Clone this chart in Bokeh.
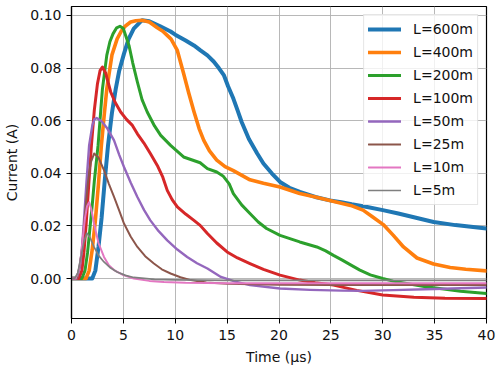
from bokeh.plotting import figure
from bokeh.models import Range1d, FixedTicker, NumeralTickFormatter
from bokeh.embed import file_html
from bokeh.resources import INLINE

# ---- data ----
labels = ["L=600m", "L=400m", "L=200m", "L=100m", "L=50m", "L=25m", "L=10m", "L=5m"]
colors = ["#1f77b4", "#ff7f0e", "#2ca02c", "#d62728", "#9467bd", "#8c564b", "#e377c2", "#7f7f7f"]
widths = [4, 3.6, 3, 3, 2.4, 2, 2, 1.7]

t_600 = [0, 2.0, 2.3, 2.6, 2.9, 3.2, 3.52, 3.9, 4.26, 4.6, 5.06, 5.5, 6.0, 6.8, 7.5, 8.5, 9.55, 10, 11,
         11.8, 12.43, 13.1, 13.7, 14.2, 14.7, 15.1, 15.6, 16.0, 16.4, 17.1, 17.9, 18.5, 19.3, 20.1, 21,
         22, 23.5, 24.9, 26, 27, 28.5, 30, 31.5, 33, 34.9, 37, 40]
i_600 = [0, 0, 0.003, 0.012, 0.023, 0.037, 0.0506, 0.063, 0.072, 0.079, 0.0855, 0.091, 0.095, 0.0982,
         0.0978, 0.096, 0.0939, 0.0927, 0.0905, 0.0886, 0.0867, 0.0848, 0.0825, 0.080, 0.0772, 0.073,
         0.0684, 0.064, 0.0595, 0.053, 0.0475, 0.0437, 0.040, 0.0367, 0.0345, 0.0329, 0.031, 0.0297,
         0.029, 0.0282, 0.0272, 0.026, 0.0247, 0.0233, 0.0215, 0.0203, 0.019]

t_400 = [0, 1.4, 1.7, 2.0, 2.3, 2.6, 2.88, 3.15, 3.4, 3.9, 4.4, 4.8, 5.2, 5.7, 6.2, 6.8, 7.5, 8.27,
         8.8, 9.2, 9.6, 10.2, 10.8, 11.3, 11.8, 12.3, 12.75, 13.3, 14.0, 14.8, 15.6, 17.2, 18.5, 20.1,
         22, 23.5, 24.9, 26.9, 28.1, 29.0, 30.05, 31.0, 32.0, 33.3, 34.9, 36.5, 38, 40]
i_400 = [0, 0, 0.003, 0.011, 0.022, 0.036, 0.0506, 0.062, 0.072, 0.085, 0.0911, 0.094, 0.096, 0.0975,
         0.098, 0.0982, 0.0975, 0.0953, 0.094, 0.0925, 0.091, 0.0867, 0.078, 0.0705, 0.0635, 0.057,
         0.0525, 0.0485, 0.045, 0.0425, 0.041, 0.0375, 0.0362, 0.0348, 0.0323, 0.031, 0.0297, 0.0278,
         0.026, 0.0235, 0.0205, 0.0165, 0.012, 0.0078, 0.0055, 0.0042, 0.0035, 0.0029]

t_200 = [0, 1.0, 1.3, 1.55, 1.8, 2.0, 2.2, 2.56, 2.98, 3.4, 3.7, 4.0, 4.35, 4.67, 5.0, 5.25, 5.54, 5.9,
         6.35, 6.8, 7.3, 8.0, 8.6, 9.55, 10.8, 12.4, 13.1, 14.0, 14.6, 15.2, 15.6, 16.4, 17.2, 18.0,
         18.8, 20.1, 22, 23.65, 24.5, 25.25, 26.1, 26.9, 27.8, 28.8, 30, 31, 32.3, 34, 35.5, 37.5, 40]
i_200 = [0, 0, 0.003, 0.01, 0.02, 0.028, 0.037, 0.0506, 0.072, 0.0848, 0.09, 0.093, 0.0953, 0.0959,
         0.095, 0.092, 0.0886, 0.082, 0.0747, 0.068, 0.0633, 0.058, 0.0544, 0.0506, 0.0462, 0.044,
         0.0418, 0.0405, 0.039, 0.036, 0.0323, 0.028, 0.0247, 0.0215, 0.019, 0.0164, 0.0139, 0.012,
         0.0105, 0.0088, 0.007, 0.0052, 0.0032, 0.0014, 0.0, -0.001, -0.0019, -0.003, -0.0038,
         -0.0048, -0.0057]

t_100 = [0, 0.7, 1.0, 1.2, 1.4, 1.65, 1.92, 2.2, 2.5, 2.75, 2.98, 3.3, 3.78, 4.2, 4.74, 5.3, 5.87, 6.35,
         6.98, 7.6, 8.27, 8.8, 9.23, 9.7, 10.2, 11.0, 11.8, 12.4, 13.1, 14.0, 15.0, 16.0, 17.2, 18.5,
         20.1, 22, 23.5, 25.25, 27.5, 30, 33, 36, 40]
i_100 = [0, 0, 0.003, 0.01, 0.02, 0.035, 0.0506, 0.064, 0.074, 0.079, 0.0804, 0.078, 0.0709, 0.067,
         0.0633, 0.0605, 0.0582, 0.055, 0.0515, 0.0475, 0.043, 0.0385, 0.0335, 0.030, 0.0272, 0.0245,
         0.0221, 0.0202, 0.0171, 0.0135, 0.0101, 0.0078, 0.0057, 0.0035, 0.0013, -0.0006, -0.0016,
         -0.0025, -0.0045, -0.0063, -0.0071, -0.0075, -0.0076]

t_50 = [0, 0.5, 0.8, 1.0, 1.2, 1.45, 1.7, 2.0, 2.2, 2.43, 2.9, 3.46, 4.1, 4.6, 5.06, 5.7, 6.35, 7.0,
        7.6, 8.4, 9.23, 10.2, 11.15, 12.1, 13.1, 14.4, 15.8, 17.2, 20.1, 23, 26, 28, 31, 35, 40]
i_50 = [0, 0, 0.004, 0.011, 0.022, 0.037, 0.0506, 0.058, 0.0605, 0.061, 0.0598, 0.057, 0.0525, 0.047,
        0.0424, 0.0365, 0.031, 0.026, 0.0221, 0.018, 0.0145, 0.011, 0.0082, 0.0058, 0.0038, 0.0006,
        -0.0012, -0.0025, -0.0038, -0.0043, -0.0046, -0.0047, -0.0044, -0.004, -0.0034]

t_25 = [0, 0.5, 0.8, 1.0, 1.2, 1.4, 1.6, 1.85, 2.18, 2.6, 3.14, 3.6, 4.1, 4.6, 5.06, 5.7, 6.35, 7.1,
        7.94, 8.7, 9.55, 10.5, 11.5, 13, 15, 20, 25, 30, 40]
i_25 = [0, 0, 0.005, 0.011, 0.02, 0.029, 0.037, 0.044, 0.0475, 0.046, 0.0411, 0.036, 0.031, 0.0258,
        0.0209, 0.016, 0.012, 0.0085, 0.0057, 0.0035, 0.0019, 0.0005, -0.0006, -0.0015, -0.002,
        -0.0024, -0.0025, -0.0025, -0.0025]

t_10 = [0, 0.4, 0.7, 0.9, 1.1, 1.3, 1.5, 1.7, 1.9, 2.17, 2.6, 3.13, 3.6, 4.1, 5.0, 6.0, 7.5, 8.9, 11,
        15, 20, 30, 40]
i_10 = [0, 0, 0.003, 0.008, 0.016, 0.023, 0.0275, 0.029, 0.0265, 0.0209, 0.0135, 0.0082, 0.005,
        0.0032, 0.0013, 0.0, -0.0009, -0.0013, -0.0016, -0.0018, -0.0018, -0.0018, -0.0018]

t_5 = [0, 0.3, 0.6, 0.9, 1.2, 1.47, 1.8, 2.17, 2.6, 3.13, 3.7, 4.4, 5.2, 6.0, 8, 10, 15, 20, 40]
i_5 = [0, 0, 0.002, 0.008, 0.014, 0.0173, 0.0155, 0.012, 0.0088, 0.0063, 0.0042, 0.0025, 0.0012,
       0.0004, -0.0003, -0.0005, -0.0007, -0.0007, -0.0007]

x_ticks = [0, 5, 10, 15, 20, 25, 30, 35, 40]
y_ticks = [0.00, 0.02, 0.04, 0.06, 0.08, 0.10]

series_t = [t_600, t_400, t_200, t_100, t_50, t_25, t_10, t_5]
series_i = [i_600, i_400, i_200, i_100, i_50, i_25, i_10, i_5]

FONT = "DejaVu Sans"
TXT = "#111111"

p = figure(width=496, height=370, x_range=Range1d(0, 40), y_range=Range1d(-0.0152, 0.1034),
           output_backend="svg", toolbar_location=None,
           min_border_left=71, min_border_right=10, min_border_top=6, min_border_bottom=52)

for t, i, lab, c, w in zip(series_t, series_i, labels, colors, widths):
    p.line(t, i, line_color=c, line_width=w, legend_label=lab, line_join="round", line_cap="round")

p.background_fill_color = "white"
p.border_fill_color = "white"
p.outline_line_color = "black"
p.outline_line_width = 1.2
p.outline_line_alpha = 1

for ax in (p.xaxis[0], p.yaxis[0]):
    ax.axis_line_color = "black"
    ax.axis_line_width = 1.2
    ax.major_tick_line_color = "black"
    ax.major_tick_in = 0
    ax.major_tick_out = 5
    ax.minor_tick_line_color = None
    ax.major_label_text_font = FONT
    ax.major_label_text_font_size = "14px"
    ax.major_label_text_color = TXT
    ax.axis_label_text_font = FONT
    ax.axis_label_text_font_size = "14px"
    ax.axis_label_text_font_style = "normal"
    ax.axis_label_text_color = TXT

p.xaxis.ticker = FixedTicker(ticks=x_ticks)
p.yaxis.ticker = FixedTicker(ticks=y_ticks)
p.yaxis.formatter = NumeralTickFormatter(format="0.00")
p.xaxis.axis_label = "Time (µs)"
p.yaxis.axis_label = "Current (A)"
p.xaxis.major_label_standoff = 6
p.xaxis.axis_label_standoff = 6
p.yaxis.major_label_standoff = 5
p.yaxis.axis_label_standoff = 7

p.grid.grid_line_color = "#b0b0b0"
p.grid.grid_line_width = 1
p.grid.grid_line_alpha = 0.9

lg = p.legend[0]
lg.location = "top_right"
lg.margin = 8
lg.padding = 4
lg.spacing = 3
lg.glyph_width = 33
lg.glyph_height = 20
lg.label_height = 20
lg.label_standoff = 12
lg.label_text_font = FONT
lg.label_text_font_size = "14px"
lg.label_text_color = TXT
lg.border_line_color = "#cccccc"
lg.border_line_width = 1
lg.background_fill_color = "white"
lg.background_fill_alpha = 0.8

open("out.html", "w").write(file_html(p, INLINE))
